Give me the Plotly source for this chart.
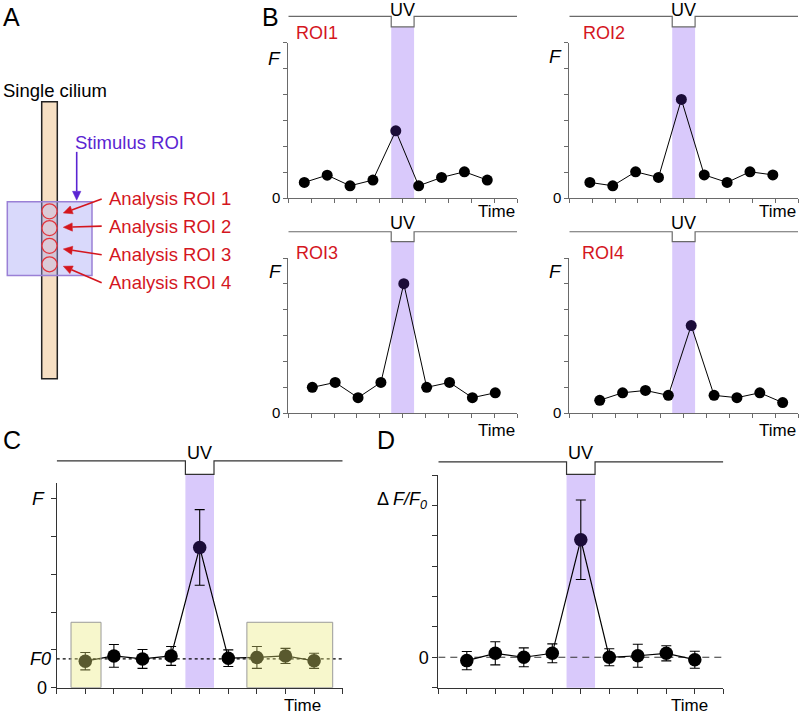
"""UV stimulation of single cilium: schematic, per-ROI traces, mean F and dF/F0."""
import math

import plotly.graph_objects as go

# ---- data -------------------------------------------------------------
FRAMES = [1, 2, 3, 4, 5, 6, 7, 8, 9]
UV_ON, UV_OFF = 4.5, 5.5
UV_INDEX = 4

ROI_NAMES = ["ROI1", "ROI2", "ROI3", "ROI4"]
ROI_OFFSETS = [-0.3, -0.1, 0.05, 0.33]
ROI1_F = [0.61, 0.89, 0.48, 0.70, 2.60, 0.48, 0.80, 1.02, 0.70]
ROI2_F = [0.61, 0.48, 1.02, 0.80, 3.81, 0.90, 0.61, 1.02, 0.90]
ROI3_F = [1.00, 1.19, 0.60, 1.19, 5.01, 1.00, 1.19, 0.60, 0.79]
ROI4_F = [0.50, 0.79, 0.88, 0.69, 3.39, 0.69, 0.60, 0.79, 0.41]

MEAN_F = [0.70, 0.84, 0.76, 0.84, 3.71, 0.78, 0.80, 0.84, 0.71]
MEAN_F_ERR = [0.23, 0.30, 0.25, 0.25, 1.00, 0.22, 0.29, 0.20, 0.20]
F0 = 0.76
BASELINE_WINDOWS = [(0.5, 1.55), (6.65, 9.65)]
BASELINE_TOP = 1.73

DFF = [-0.11, 0.13, 0.0, 0.13, 3.87, 0.0, 0.05, 0.13, -0.08]
DFF_ERR = [0.30, 0.38, 0.31, 0.31, 1.31, 0.28, 0.38, 0.25, 0.28]

# ---- style ------------------------------------------------------------
W, H = 800, 722
FONT = "Arial, 'Liberation Sans', sans-serif"
BAND = "#d9c9fb"
PEAK = "#1b0c38"
RED = "#d4161e"
PURPLE = "#5a24d2"


def px(x):
    return x / W


def py(y):
    return 1 - y / H


def dot_colors(n):
    return [PEAK if i == UV_INDEX else "black" for i in range(n)]


fig = go.Figure()
shapes = []
ann = []


def text(x, y, s, size=18, color="black", xanchor="center", ref=("paper", "paper")):
    ann.append(dict(x=x, y=y, xref=ref[0], yref=ref[1], text=s, showarrow=False,
                    xanchor=xanchor, yanchor="middle",
                    font=dict(family=FONT, size=size, color=color)))


def arrow(x0, y0, x1, y1, color, head=9, half=4.2):
    # shaft plus filled triangular head, in pixel coords
    ang = math.atan2(y1 - y0, x1 - x0)
    bx, by = x1 - head * math.cos(ang), y1 - head * math.sin(ang)
    shapes.append(dict(type="line", xref="paper", yref="paper",
                       x0=px(x0), y0=py(y0), x1=px(bx), y1=py(by),
                       line=dict(color=color, width=1.6), layer="above"))
    lx, ly = bx + half * math.sin(ang), by - half * math.cos(ang)
    rx, ry = bx - half * math.sin(ang), by + half * math.cos(ang)
    shapes.append(dict(type="path", xref="paper", yref="paper",
                       path=f"M {px(x1)},{py(y1)} L {px(lx)},{py(ly)} L {px(rx)},{py(ry)} Z",
                       fillcolor=color, line=dict(color=color, width=0.5), layer="above"))


def uv_trace(xr, ytop, ybot, color):
    shapes.append(dict(
        type="path", xref=xr, yref="paper",
        path=f"M 0,{py(ytop)} L {UV_ON},{py(ytop)} L {UV_ON},{py(ybot)} "
             f"L {UV_OFF},{py(ybot)} L {UV_OFF},{py(ytop)} L 10,{py(ytop)}",
        line=dict(color=color, width=1.2), layer="above"))


def band(xr, ytop, ybot):
    shapes.append(dict(type="rect", xref=xr, yref="paper", x0=UV_ON, x1=UV_OFF,
                       y0=py(ybot), y1=py(ytop), fillcolor=BAND,
                       line=dict(width=0), layer="below"))


layout_axes = {}


def add_axes(i, xd, yd, yrange, yticks, axcol, tsize, ticklen=4):
    xs = "xaxis" if i == 1 else f"xaxis{i}"
    ys = "yaxis" if i == 1 else f"yaxis{i}"
    xa = "x" if i == 1 else f"x{i}"
    ya = "y" if i == 1 else f"y{i}"
    layout_axes[xs] = dict(domain=[px(xd[0]), px(xd[1])], anchor=ya, range=[0, 10],
                           showline=True, linecolor=axcol, linewidth=1,
                           ticks="outside", ticklen=ticklen, tickcolor=axcol,
                           tickvals=list(range(11)), showticklabels=False,
                           showgrid=False, zeroline=False, fixedrange=True)
    layout_axes[ys] = dict(domain=[py(yd[1]), py(yd[0])], anchor=xa, range=yrange,
                           showline=True, linecolor=axcol, linewidth=1,
                           ticks="outside", ticklen=ticklen, tickcolor=axcol,
                           tickvals=[0], ticktext=["0"],
                           minor=dict(tickmode="array", tickvals=yticks, ticks="outside",
                                      ticklen=ticklen, tickcolor=axcol, showgrid=False),
                           tickfont=dict(family=FONT, size=tsize, color="black"),
                           showgrid=False, zeroline=False, fixedrange=True)
    return xa, ya


# ---- panel B: four ROIs ----------------------------------------------
b_pos = [
    ((288.3, 517), (43.3, 201), 16.7, 27.3, 10, (317, 33), (274, 59), 214),
    ((569.3, 798), (43.3, 201), 16.7, 27.3, 10, (604, 33), (555, 57), 214),
    ((288.3, 517), (261.7, 419), 235, 245, 226, (317, 257), (275, 275), 437),
    ((569.3, 798), (261.7, 419), 235, 245, 226, (603, 257), (555, 275), 437),
]
roi_data = [ROI1_F, ROI2_F, ROI3_F, ROI4_F]
for k, (xd, yd, ytop, ybot, yuv, lab, flab, ytime) in enumerate(b_pos):
    xa, ya = add_axes(k + 1, xd, yd, [0, 6], list(range(7)), "#6a6a6a", 15)
    fig.add_trace(go.Scatter(
        x=[f + ROI_OFFSETS[k] for f in FRAMES], y=roi_data[k], xaxis=xa, yaxis=ya,
        mode="lines+markers", line=dict(color="black", width=1),
        marker=dict(size=11, color=dot_colors(len(FRAMES))),
        cliponaxis=False, showlegend=False, hoverinfo="skip"))
    band(xa, ybot, yd[1])
    uv_trace(xa, ytop, ybot, "#6a6a6a")
    text((UV_ON + UV_OFF) / 2, py(yuv), "UV", 18, ref=(xa, "paper"))
    text(px(lab[0]), py(lab[1]), ROI_NAMES[k], 18, RED)
    text(px(flab[0]), py(flab[1]), "<i>F</i>", 19)
    text(px(xd[1]), py(ytime), "Time", 17, xanchor="right")

# ---- panel C: mean F --------------------------------------------------
xa, ya = add_axes(5, (56.7, 342.7), (490, 697.3), [0, 5.41], list(range(6)), "#333333", 18, 5)
fig.add_trace(go.Scatter(
    x=FRAMES, y=MEAN_F, xaxis=xa, yaxis=ya, mode="lines+markers",
    line=dict(color="black", width=1.2),
    marker=dict(size=13.5, color=dot_colors(len(FRAMES))),
    error_y=dict(type="data", array=MEAN_F_ERR, color="black", thickness=1.1, width=5),
    cliponaxis=False, showlegend=False, hoverinfo="skip"))
band(xa, 481, 697.3)
uv_trace(xa, 467.3, 481, "#333333")
text((UV_ON + UV_OFF) / 2, py(459), "UV", 18, ref=(xa, "paper"))
shapes.append(dict(type="line", xref=xa, yref=ya, x0=0, x1=10, y0=F0, y1=F0,
                   line=dict(color="black", width=1.2, dash="dot"), layer="above"))
for x0, x1 in BASELINE_WINDOWS:
    shapes.append(dict(type="rect", xref=xa, yref=ya, x0=x0, x1=x1, y0=0, y1=BASELINE_TOP,
                       fillcolor="rgba(235,235,120,0.38)",
                       line=dict(color="#9a9a9a", width=1), layer="above"))
text(px(38), py(505), "<i>F</i>", 19)
text(px(40), py(668.3), "<i>F0</i>", 18)
text(px(302), py(715), "Time", 17)

# ---- panel D: dF/F0 ---------------------------------------------------
xa, ya = add_axes(6, (438.3, 723.3), (481.7, 697.3), [-1, 6], list(range(-1, 7)), "#333333", 18, 5)
fig.add_trace(go.Scatter(
    x=FRAMES, y=DFF, xaxis=xa, yaxis=ya, mode="lines+markers",
    line=dict(color="black", width=1.2),
    marker=dict(size=13.5, color=dot_colors(len(FRAMES))),
    error_y=dict(type="data", array=DFF_ERR, color="black", thickness=1.1, width=5),
    cliponaxis=False, showlegend=False, hoverinfo="skip"))
band(xa, 481, 697.3)
uv_trace(xa, 468.3, 481, "#333333")
text((UV_ON + UV_OFF) / 2, py(459), "UV", 18, ref=(xa, "paper"))
shapes.append(dict(type="line", xref=xa, yref=ya, x0=0, x1=10, y0=0, y1=0,
                   line=dict(color="#333333", width=1.2, dash="7px,5px"), layer="below"))
text(px(402), py(508), "Δ <i>F/F</i><i><sub>0</sub></i>", 18)
text(px(689), py(715), "Time", 17)

# ---- panel A: schematic ----------------------------------------------
shapes.append(dict(type="rect", xref="paper", yref="paper", x0=px(41.7), x1=px(57.3),
                   y0=py(384), y1=py(103.3), fillcolor="#f6dfc3",
                   line=dict(color="#222222", width=1.5), layer="above"))
shapes.append(dict(type="rect", xref="paper", yref="paper", x0=px(7.3), x1=px(92),
                   y0=py(279.3), y1=py(204.7), fillcolor="rgba(160,160,245,0.4)",
                   line=dict(color="#9a80d6", width=1.5), layer="above"))
for cy in [214.3, 231.3, 249.3, 268]:
    shapes.append(dict(type="circle", xref="paper", yref="paper",
                       x0=px(49.5 - 7.6), x1=px(49.5 + 7.6), y0=py(cy + 7.6), y1=py(cy - 7.6),
                       fillcolor="rgba(225,205,215,0.55)",
                       line=dict(color="#e2343c", width=1.3), layer="above"))
text(px(1), py(92), "Single cilium", 18.5, xanchor="left")
text(px(73), py(145), "Stimulus ROI", 18.5, PURPLE, xanchor="left")
arrow(76.7, 154, 76.7, 203, PURPLE)
for i, (ly, hy) in enumerate([(201.7, 216), (229.3, 230.5), (258.3, 252.5), (286.7, 270)]):
    text(px(107), py(ly), f"Analysis ROI {i + 1}", 18.5, RED, xanchor="left")
    arrow(101.7, ly, 63.3, hy, RED)

# panel letters
for lab, x, y in [("A", 1, 17), ("B", 260, 17), ("C", 1, 446), ("D", 375, 446)]:
    text(px(x), py(y), lab, 25, xanchor="left")

fig.update_layout(
    width=W, height=H, margin=dict(l=0, r=0, t=0, b=0),
    paper_bgcolor="white", plot_bgcolor="rgba(0,0,0,0)",
    showlegend=False, shapes=shapes, annotations=ann,
    font=dict(family=FONT), **layout_axes,
)
fig.write_html("out.html", config={"displayModeBar": False})

# page body has an 8px default margin; drop it so the figure sits at 0,0
with open("out.html", encoding="utf-8") as fh:
    html = fh.read()
html = html.replace("<body>", '<body style="margin:0;overflow:hidden">', 1)
with open("out.html", "w", encoding="utf-8") as fh:
    fh.write(html)
